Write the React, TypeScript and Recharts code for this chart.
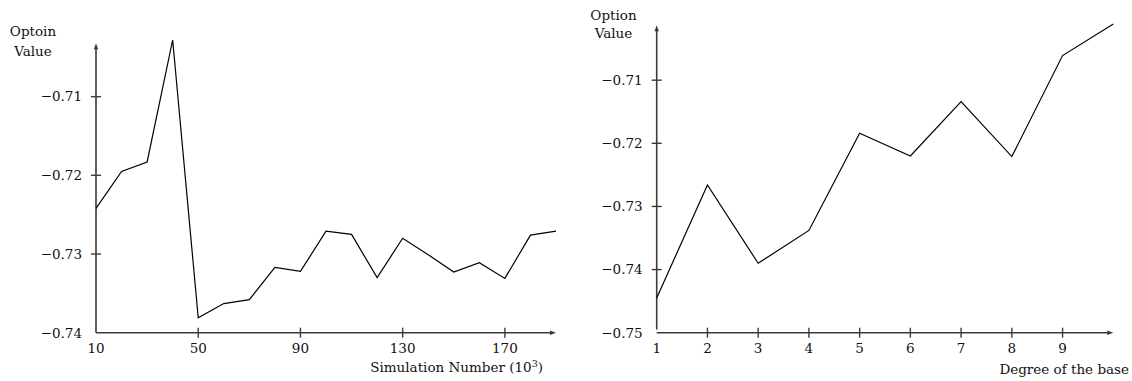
import React from 'react';
import { LineChart, Line, XAxis, YAxis, ReferenceLine } from 'recharts';

const simNumbers = [10, 20, 30, 40, 50, 60, 70, 80, 90, 100, 110, 120, 130, 140, 150, 160, 170, 180, 190];
const simValues = [-0.7242, -0.7195, -0.7183, -0.7028, -0.7381, -0.7363, -0.7358, -0.7317, -0.7322, -0.7271, -0.7275, -0.733, -0.728, -0.7301, -0.7323, -0.7311, -0.7331, -0.7276, -0.7271];
const degrees = [1, 2, 3, 4, 5, 6, 7, 8, 9, 10];
const degreeValues = [-0.7445, -0.7266, -0.739, -0.7338, -0.7184, -0.722, -0.7134, -0.7221, -0.7061, -0.7011];

const leftXTicks = [10, 50, 90, 130, 170];
const leftYTicks = [-0.74, -0.73, -0.72, -0.71];
const rightXTicks = [1, 2, 3, 4, 5, 6, 7, 8, 9];
const rightYTicks = [-0.75, -0.74, -0.73, -0.72, -0.71];

const leftTitleY = ['Optoin', 'Value'];
const leftTitleX = 'Simulation Number';
const rightTitleY = ['Option', 'Value'];
const rightTitleX = 'Degree of the base';

const FONT = '"DejaVu Serif", "Liberation Serif", serif';
const FS = 13.5;
const AXIS = '#3a3a3a';

const leftData = simNumbers.map((x, i) => ({ x, v: simValues[i] }));
const rightData = degrees.map((x, i) => ({ x, v: degreeValues[i] }));

const fmt = (v: number) => (v < 0 ? '\u2212' : '') + Math.abs(v).toFixed(2);

const makeYTick = (origin: number) => (props: any) => {
  const { x, y, payload } = props;
  const isOrigin = Math.abs(payload.value - origin) < 1e-9;
  return (
    <g>
      {!isOrigin && <line x1={x - 5} x2={x + 5} y1={y} y2={y} stroke={AXIS} strokeWidth={1.4} />}
      <text x={x - 14} y={y} dy={4.8} textAnchor="end" fontFamily={FONT} fontSize={FS} fill="#111">
        {fmt(payload.value)}
      </text>
    </g>
  );
};

const makeXTick = (origin: number) => (props: any) => {
  const { x, y, payload } = props;
  const isOrigin = Math.abs(payload.value - origin) < 1e-9;
  return (
    <g>
      {!isOrigin && <line x1={x} x2={x} y1={y - 5} y2={y + 5} stroke={AXIS} strokeWidth={1.4} />}
      <text x={x} y={y} dy={20} textAnchor="middle" fontFamily={FONT} fontSize={FS} fill="#111">
        {String(payload.value)}
      </text>
    </g>
  );
};

const arrowShape = (props: any) => {
  const { x1, y1, x2, y2 } = props;
  const dx = x2 - x1;
  const dy = y2 - y1;
  const len = Math.hypot(dx, dy) || 1;
  const ux = dx / len;
  const uy = dy / len;
  const L = 6;
  const W = 2.2;
  const bx = x2 - ux * L;
  const by = y2 - uy * L;
  const pts = `${x2},${y2} ${bx - uy * W},${by + ux * W} ${bx + uy * W},${by - ux * W}`;
  return (
    <g>
      <line x1={x1} y1={y1} x2={bx + ux * 2} y2={by + uy * 2} stroke={AXIS} strokeWidth={1.6} />
      <polygon points={pts} fill={AXIS} />
    </g>
  );
};

const textStyle: React.CSSProperties = {
  position: 'absolute',
  fontFamily: FONT,
  fontSize: FS,
  color: '#111',
  whiteSpace: 'nowrap',
};

const YW = 50;
const XH = 30;

export default function App() {
  return (
    <div style={{ position: 'absolute', left: 0, top: 0, width: 1132, height: 381, background: '#fff', overflow: 'hidden' }}>
      <div style={{ position: 'absolute', left: 0, top: 0 }}>
        <LineChart width={566} height={381} data={leftData} margin={{ top: 40, right: 10, bottom: 48.3 - XH, left: 96 - YW }}>
          <XAxis
            dataKey="x"
            type="number"
            domain={[10, 190]}
            ticks={leftXTicks}
            interval={0}
            height={XH}
            axisLine={false}
            tickLine={false}
            tickSize={0}
            tickMargin={0}
            tick={makeXTick(10)}
          />
          <YAxis
            type="number"
            domain={[-0.74, -0.7028]}
            ticks={leftYTicks}
            interval={0}
            width={YW}
            axisLine={false}
            tickLine={false}
            tickSize={0}
            tickMargin={0}
            tick={makeYTick(-0.74)}
          />
          <ReferenceLine segment={[{ x: 10, y: -0.74 }, { x: 190, y: -0.74 }]} shape={arrowShape} ifOverflow="visible" />
          <ReferenceLine segment={[{ x: 10, y: -0.74 }, { x: 10, y: -0.7032 }]} shape={arrowShape} ifOverflow="visible" />
          <Line dataKey="v" stroke="#000" strokeWidth={1.2} dot={false} isAnimationActive={false} type="linear" />
        </LineChart>
      </div>
      <div style={{ position: 'absolute', left: 566, top: 0 }}>
        <LineChart width={566} height={381} data={rightData} margin={{ top: 24, right: 18.7, bottom: 48.3 - XH, left: 90.7 - YW }}>
          <XAxis
            dataKey="x"
            type="number"
            domain={[1, 10]}
            ticks={rightXTicks}
            interval={0}
            height={XH}
            axisLine={false}
            tickLine={false}
            tickSize={0}
            tickMargin={0}
            tick={makeXTick(1)}
          />
          <YAxis
            type="number"
            domain={[-0.75, -0.7011]}
            ticks={rightYTicks}
            interval={0}
            width={YW}
            axisLine={false}
            tickLine={false}
            tickSize={0}
            tickMargin={0}
            tick={makeYTick(-0.75)}
          />
          <ReferenceLine segment={[{ x: 1, y: -0.75 }, { x: 10, y: -0.75 }]} shape={arrowShape} ifOverflow="visible" />
          <ReferenceLine segment={[{ x: 1, y: -0.7495 }, { x: 1, y: -0.7013 }]} shape={arrowShape} ifOverflow="visible" />
          <Line dataKey="v" stroke="#000" strokeWidth={1.2} dot={false} isAnimationActive={false} type="linear" />
        </LineChart>
      </div>

      <div style={{ ...textStyle, left: 0, width: 66, top: 20.7, lineHeight: '20px', textAlign: 'center' }}>
        {leftTitleY[0]}
        <br />
        {leftTitleY[1]}
      </div>
      <div style={{ ...textStyle, left: 0, width: 543, top: 357, lineHeight: '20px', textAlign: 'right' }}>
        {leftTitleX} (10<sup style={{ fontSize: 9.5, lineHeight: 0 }}>3</sup>)
      </div>
      <div style={{ ...textStyle, left: 573.5, width: 80, top: 6, lineHeight: '18px', textAlign: 'center' }}>
        {rightTitleY[0]}
        <br />
        {rightTitleY[1]}
      </div>
      <div style={{ ...textStyle, left: 0, width: 1129, top: 359, lineHeight: '20px', textAlign: 'right' }}>
        {rightTitleX}
      </div>
    </div>
  );
}
